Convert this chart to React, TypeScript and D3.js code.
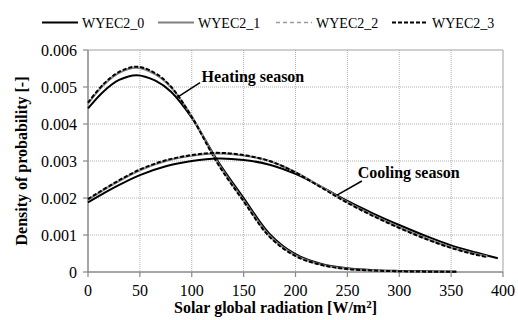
import React from "react";
import * as d3 from "d3";

const seriesNames = ["WYEC2_0", "WYEC2_1", "WYEC2_2", "WYEC2_3"];

const heatX = [0, 15, 30, 47, 65, 80, 100, 125, 150, 175, 200, 225, 250, 275, 300, 325, 355];
const heat0 = [0.00442, 0.00488, 0.00519, 0.00532, 0.00517, 0.00487, 0.00417, 0.003, 0.002, 0.00103, 0.00048, 0.00022, 0.0001, 0.00005, 0.00003, 0.00002, 0.00001];
const heat1 = [0.00455, 0.00505, 0.00538, 0.00552, 0.00534, 0.00499, 0.00421, 0.00296, 0.00194, 0.00098, 0.00045, 0.0002, 0.00009, 0.00004, 0.00002, 0.00001, 0.00001];
const heat2 = [0.00456, 0.00507, 0.0054, 0.00554, 0.00536, 0.005, 0.0042, 0.00294, 0.00192, 0.00096, 0.00044, 0.00019, 0.00008, 0.00004, 0.00002, 0.00001, 0.00001];
const heat3 = [0.00458, 0.00508, 0.00541, 0.00555, 0.00537, 0.00501, 0.00419, 0.00293, 0.00191, 0.00095, 0.00043, 0.00019, 0.00008, 0.00004, 0.00002, 0.00001, 0.00001];

const coolX0 = [0, 25, 50, 75, 100, 125, 150, 175, 200, 225, 250, 275, 300, 325, 350, 375, 395];
const coolX1 = [0, 25, 50, 75, 100, 125, 150, 175, 200, 225, 250, 275, 300, 325, 350, 375, 385];
const cool0 = [0.00188, 0.00228, 0.00262, 0.00286, 0.003, 0.00307, 0.00303, 0.0029, 0.00265, 0.0023, 0.00192, 0.00158, 0.00127, 0.00098, 0.00072, 0.00052, 0.00037];
const cool1 = [0.00195, 0.00238, 0.00275, 0.003, 0.00314, 0.0032, 0.00315, 0.003, 0.0027, 0.0023, 0.00189, 0.00153, 0.00121, 0.00092, 0.00067, 0.00048, 0.00042];
const cool2 = [0.00196, 0.00239, 0.00276, 0.00301, 0.00315, 0.00321, 0.00316, 0.003, 0.0027, 0.00229, 0.00188, 0.00152, 0.0012, 0.00091, 0.00066, 0.00047, 0.00041];
const cool3 = [0.00197, 0.0024, 0.00277, 0.00302, 0.00316, 0.00322, 0.00316, 0.003, 0.00269, 0.00228, 0.00187, 0.00151, 0.00119, 0.0009, 0.00065, 0.00046, 0.0004];

const xTicks = [0, 50, 100, 150, 200, 250, 300, 350, 400];
const yTicks = [0, 0.001, 0.002, 0.003, 0.004, 0.005, 0.006];
const yTickLabels = ["0", "0.001", "0.002", "0.003", "0.004", "0.005", "0.006"];

const styles = [
  { stroke: "#000", width: 2, dash: "" },
  { stroke: "#808080", width: 2, dash: "" },
  { stroke: "#9a9a9a", width: 1.6, dash: "4,3" },
  { stroke: "#000", width: 2, dash: "4,2" },
];

const FONT = '"Liberation Serif"';
const tf = { fontFamily: FONT };

export default function App() {
  const W = 518, H = 320;
  const left = 88, right = 503, top = 50, bottom = 272;
  const x = d3.scaleLinear().domain([0, 400]).range([left, right]);
  const y = d3.scaleLinear().domain([0, 0.006]).range([bottom, top]);

  const mk = (xs: number[], ys: number[]) =>
    d3.line<number>().x((_, i) => x(xs[i])).y((d) => y(d)).curve(d3.curveCatmullRom.alpha(0.5))(ys) || "";

  const heat = [heat0, heat1, heat2, heat3];
  const cool = [cool0, cool1, cool2, cool3];
  const coolXs = [coolX0, coolX1, coolX1, coolX1];

  const legendX = [42, 158, 276, 392];

  return (
    <svg width={W} height={H} style={{ position: "absolute", left: 0, top: 0, background: "#fff" }}>
      <rect x={0} y={0} width={W} height={H} fill="#fff" />
      {xTicks.filter((t) => t > 0 && t < 400).map((t) => (
        <line key={"gx" + t} x1={x(t)} x2={x(t)} y1={top} y2={bottom} stroke="#b0b0b0" strokeWidth={1} strokeDasharray="1,1" />
      ))}
      {yTicks.filter((t) => t > 0 && t < 0.006).map((t) => (
        <line key={"gy" + t} x1={left} x2={right} y1={y(t)} y2={y(t)} stroke="#b0b0b0" strokeWidth={1} strokeDasharray="1,1" />
      ))}
      <line x1={left} x2={right} y1={top} y2={top} stroke="#a0a0a0" strokeWidth={1} />
      <line x1={right} x2={right} y1={top} y2={bottom} stroke="#a0a0a0" strokeWidth={1} />
      <line x1={left} x2={left} y1={top} y2={bottom + 0.5} stroke="#888" strokeWidth={1.5} />
      <line x1={left} x2={right} y1={bottom} y2={bottom} stroke="#888" strokeWidth={1.5} />
      {xTicks.map((t) => (
        <g key={"tx" + t}>
          <line x1={x(t)} x2={x(t)} y1={bottom} y2={bottom + 5} stroke="#888" strokeWidth={1.2} />
          <text x={x(t)} y={296} textAnchor="middle" fontSize={16} fill="#000" style={tf}>{t}</text>
        </g>
      ))}
      {yTicks.map((t, i) => (
        <g key={"ty" + t}>
          <line x1={left - 5} x2={left} y1={y(t)} y2={y(t)} stroke="#888" strokeWidth={1.2} />
          <text x={77} y={y(t) + 5.5} textAnchor="end" fontSize={16} fill="#000" style={tf}>{yTickLabels[i]}</text>
        </g>
      ))}
      {heat.map((s, i) => (
        <path key={"h" + i} d={mk(heatX, s)} fill="none" stroke={styles[i].stroke} strokeWidth={styles[i].width} strokeDasharray={styles[i].dash} />
      ))}
      {cool.map((s, i) => (
        <path key={"c" + i} d={mk(coolXs[i], s)} fill="none" stroke={styles[i].stroke} strokeWidth={styles[i].width} strokeDasharray={styles[i].dash} />
      ))}
      <line x1={x(86)} x2={x(108)} y1={y(0.00472)} y2={y(0.00512)} stroke="#000" strokeWidth={1.5} />
      <text x={x(109.5)} y={y(0.00514)} fontSize={16} fontWeight="bold" fill="#000" style={tf}>Heating season</text>
      <line x1={x(240)} x2={x(264)} y1={y(0.00208)} y2={y(0.00246)} stroke="#000" strokeWidth={1.5} />
      <text x={x(260)} y={y(0.00254)} fontSize={16} fontWeight="bold" fill="#000" style={tf}>Cooling season</text>
      <text x={275.5} y={313} textAnchor="middle" fontSize={16} fontWeight="bold" fill="#000" style={tf}>
        Solar global radiation [W/m<tspan dy={-5} fontSize={11}>2</tspan><tspan dy={5}>]</tspan>
      </text>
      <text transform={`translate(27,${(top + bottom) / 2}) rotate(-90)`} textAnchor="middle" fontSize={16} fontWeight="bold" fill="#000" style={tf}>
        Density of probability [-]
      </text>
      {seriesNames.map((n, i) => (
        <g key={"lg" + i}>
          <line x1={legendX[i]} x2={legendX[i] + 36} y1={22.5} y2={22.5} stroke={styles[i].stroke} strokeWidth={styles[i].width} strokeDasharray={styles[i].dash} />
          <text x={legendX[i] + 40} y={28} fontSize={14} fill="#000" style={tf}>{n}</text>
        </g>
      ))}
    </svg>
  );
}
